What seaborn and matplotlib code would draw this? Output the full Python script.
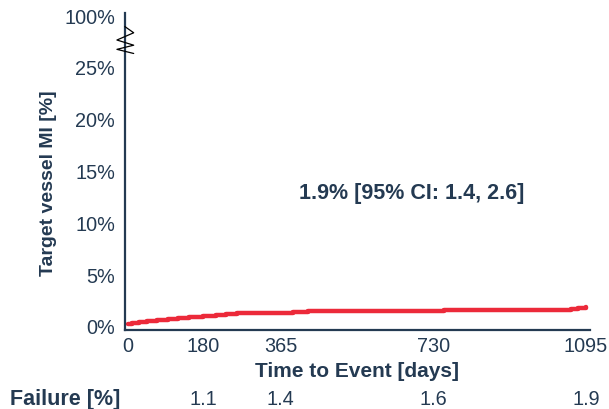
import pandas as pd
import matplotlib.pyplot as plt
import seaborn as sns

# === DATOS ===
days = [0, 10, 25, 45, 70, 95, 120, 145, 180, 210, 235, 260, 300, 340, 380, 395, 430, 500, 600, 700, 755, 850, 950, 1040, 1060, 1075, 1095]
mi_pct = [0.25, 0.35, 0.45, 0.55, 0.65, 0.75, 0.85, 0.95, 1.05, 1.15, 1.25, 1.3, 1.3, 1.32, 1.33, 1.4, 1.55, 1.56, 1.57, 1.58, 1.62, 1.63, 1.64, 1.65, 1.75, 1.82, 1.88]

tick_days = [0, 180, 365, 730, 1095]
failure_days = [180, 365, 730, 1095]
failure_pct = ["1.1", "1.4", "1.6", "1.9"]
ytick_vals = [0, 5, 10, 15, 20, 25, 30]
ytick_labels = ["0%", "5%", "10%", "15%", "20%", "25%", "100%"]
annot = "1.9% [95% CI: 1.4, 2.6]"

navy = "#243a52"
red = "#ec2a3a"

df = pd.DataFrame({"days": days, "mi": mi_pct})

# === ESTETICA ===
sns.set_theme(style="white")
plt.rcParams["font.family"] = ["Liberation Sans", "DejaVu Sans"]

fig = plt.figure(figsize=(6.09, 4.09), dpi=100)
ax = fig.add_axes([0.205, 0.193, 0.764, 0.775])

sns.lineplot(data=df, x="days", y="mi", color=red, linewidth=3.2,
             drawstyle="steps-post", ax=ax)

ax.set_xlim(-8, 1105)
ax.set_ylim(-0.3, 30.3)
ax.set_xticks(tick_days)
ax.set_xticklabels([str(d) for d in tick_days])
ax.set_yticks(ytick_vals)
ax.set_yticklabels(ytick_labels)

for side in ["top", "right"]:
    ax.spines[side].set_visible(False)
for side in ["left", "bottom"]:
    ax.spines[side].set_color(navy)
    ax.spines[side].set_linewidth(1.6)

ax.tick_params(axis="both", direction="out", length=5, width=1.6, color=navy,
               labelcolor=navy, labelsize=14.3, pad=2)
ax.tick_params(axis="x", pad=0)

ax.set_xlabel("Time to Event [days]", fontsize=15, fontweight="bold", color=navy, labelpad=4)
ax.set_ylabel("Target vessel MI [%]", fontsize=14, fontweight="bold", color=navy)
ax.yaxis.set_label_coords(-0.146, 0.464)

# marca de corte del eje (zigzag sobre el eje)
trans = ax.get_yaxis_transform()
zx = [0.0, 0.019, -0.017, 0.019, -0.017, 0.019]
zy = [29.0, 28.4, 27.7, 27.2, 26.8, 26.4]
ax.plot(zx, zy, color="black", lw=0.9, transform=trans, clip_on=False, zorder=6)

ax.text(679, 12.9, annot, ha="center", va="center", fontsize=15.5,
        fontweight="bold", color=navy)

# fila de fallos
row_y = 0.023
fig.text(0.016, row_y, "Failure [%]", ha="left", va="center", fontsize=15.5,
         fontweight="bold", color=navy)
for d, v in zip(failure_days, failure_pct):
    x_fig = fig.transFigure.inverted().transform(ax.transData.transform((d, 0)))[0]
    fig.text(x_fig, row_y, v, ha="center", va="center", fontsize=14.3, color=navy)

fig.savefig("out.png", dpi=100)
